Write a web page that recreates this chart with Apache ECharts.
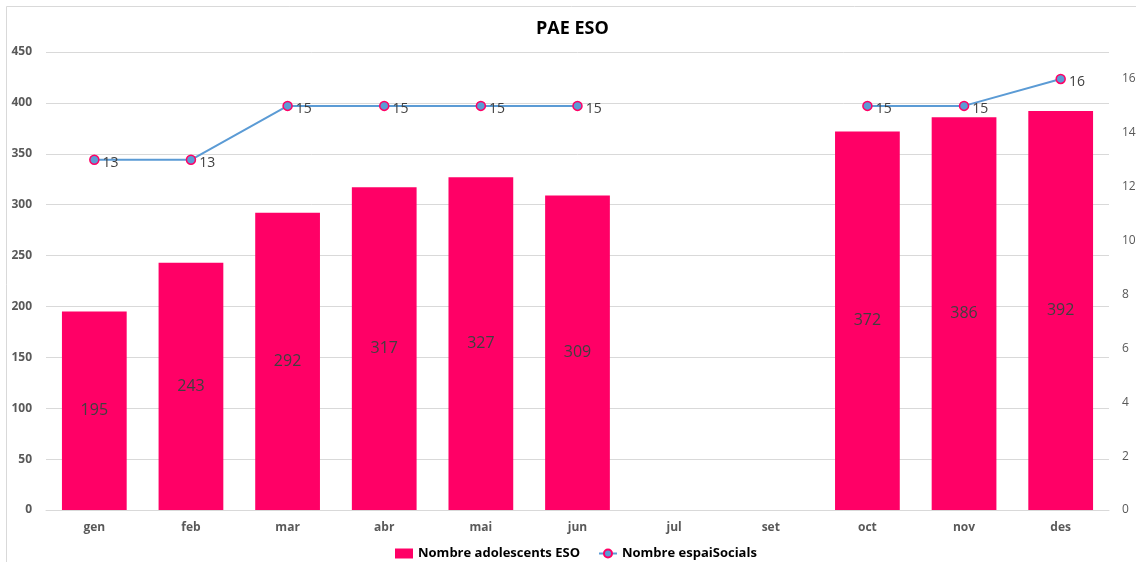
<!DOCTYPE html>
<html><head><meta charset="utf-8">
<script src="https://cdn.jsdelivr.net/npm/echarts@6/dist/echarts.min.js"></script>
<style>html,body{margin:0;padding:0;background:#fff}#c{width:1136px;height:562px}</style>
</head><body><div id="c"></div>
<script>
const categories = ['gen','feb','mar','abr','mai','jun','jul','set','oct','nov','des'];
const adolescents = [195,243,292,317,327,309,null,null,372,386,392];
const espais = [13,13,15,15,15,15,null,null,15,15,16];
const seriesNames = ['Nombre adolescents ESO','Nombre espaiSocials'];
const titleText = 'PAE ESO';

const chart = echarts.init(document.getElementById('c'));
chart.setOption({
  animation:false,
  backgroundColor:'#fff',
  graphic:[{type:'rect',shape:{x:6.5,y:6.5,width:1140,height:600},style:{fill:'none',stroke:'#d9d9d9',lineWidth:1},silent:true}],
  title:{text:titleText,left:531,top:15,textStyle:{fontFamily:'Open Sans, Calibri, sans-serif',fontSize:18,fontWeight:'bold',color:'#000'}},
  legend:{bottom:-3,left:390,itemGap:18,itemWidth:18,itemHeight:10,
    textStyle:{fontFamily:'Open Sans, sans-serif',fontSize:13,fontWeight:'bold',color:'#000'},
    data:[{name:seriesNames[0],icon:'rect'},{name:seriesNames[1]}]},
  grid:{left:46,right:27,top:52,bottom:52,containLabel:false,outerBoundsMode:'none'},
  xAxis:{type:'category',data:categories,
    axisLine:{lineStyle:{color:'#d9d9d9'}},axisTick:{show:false},
    axisLabel:{color:'#595959',fontWeight:'bold',fontSize:12,margin:12,fontFamily:'Open Sans, sans-serif'}},
  yAxis:[
    {type:'value',min:0,max:450,interval:50,
     axisLine:{show:false},axisTick:{show:false},
     splitLine:{lineStyle:{color:'#d9d9d9'}},
     axisLabel:{color:'#595959',fontWeight:'bold',fontSize:12,margin:14,fontFamily:'Open Sans, sans-serif'}},
    {type:'value',min:0,max:17,interval:2,
     axisLine:{show:false},axisTick:{show:false},splitLine:{show:false},
     axisLabel:{color:'#595959',fontSize:12,margin:13,fontFamily:'Open Sans, sans-serif',showMaxLabel:false,
       formatter:v=>v===17?'':String(v)}}
  ],
  series:[
    {name:seriesNames[0],type:'bar',data:adolescents,barWidth:'67%',
     itemStyle:{color:'#FF0066'},
     label:{show:true,position:'inside',color:'#404040',fontSize:16,fontFamily:'Open Sans, Calibri, sans-serif'}},
    {name:seriesNames[1],type:'line',yAxisIndex:1,data:espais,connectNulls:false,
     symbol:'circle',symbolSize:9,
     lineStyle:{color:'#5B9BD5',width:2},
     itemStyle:{color:'#5B9BD5',borderColor:'#FF0066',borderWidth:1.5},
     label:{show:true,position:'right',distance:3,color:'#404040',fontSize:14,fontFamily:'Open Sans, Calibri, sans-serif',offset:[0,3]}}
  ]
});
</script></body></html>
